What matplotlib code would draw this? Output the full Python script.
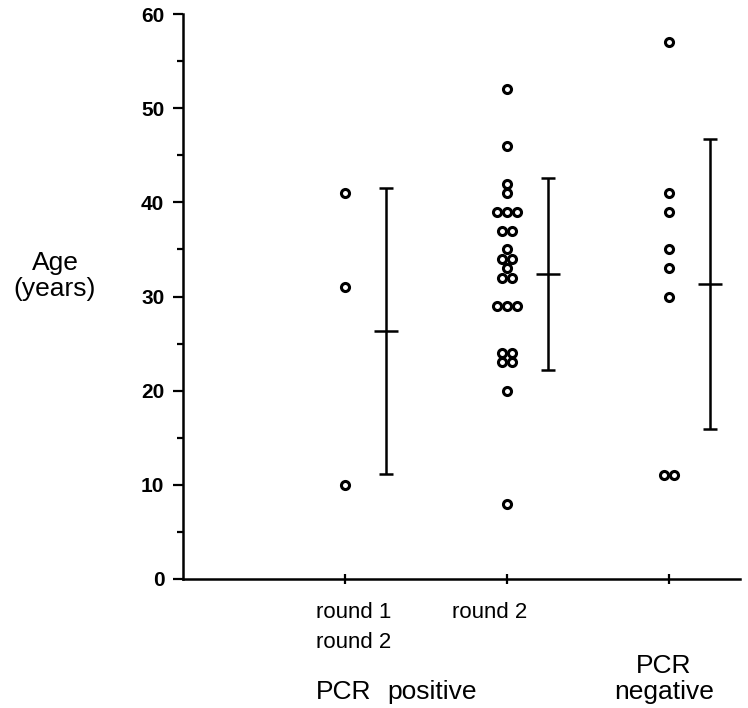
import numpy as np
import matplotlib.pyplot as plt

plt.rcParams['font.family'] = ['Liberation Sans', 'DejaVu Sans']

# ages (years)
pos_r12 = [41, 31, 10]
pos_r2 = [52, 46, 42, 41, 39, 39, 39, 37, 37, 35, 34, 34, 33,
          32, 32, 29, 29, 29, 24, 24, 23, 23, 20, 8]
neg = [57, 41, 39, 35, 33, 30, 11, 11]
groups = [pos_r12, pos_r2, neg]

# mean and +/- SD bars as drawn
means = [26.3, 32.4, 31.3]
sds = [15.2, 10.2, 15.4]

W, H = 748, 708
fig = plt.figure(figsize=(W / 100, H / 100), dpi=100)
ax = fig.add_axes([183 / W, 1 - 579 / H, (740 - 183) / W, (579 - 14) / H])

step = 0.062  # horizontal spacing for tied values
for i, vals in enumerate(groups):
    xc = i + 1
    vals = np.array(vals)
    xs = np.zeros(len(vals)) + xc
    for v in np.unique(vals):
        idx = np.where(vals == v)[0]
        n = len(idx)
        xs[idx] = xc + (np.arange(n) - (n - 1) / 2) * step
    ax.plot(xs, vals, 'o', ms=5.8, mfc='white', mec='black', mew=2.2, ls='none')

bx = np.arange(1, 4) + 0.255
ax.errorbar(bx, means, yerr=sds, fmt='none', ecolor='black', elinewidth=1.8,
            capsize=4.8, capthick=1.8)
ax.plot(bx, means, '_', color='black', ms=17, mew=1.8)

ax.set_xlim(0, 3.44)
ax.set_ylim(0, 60)
ax.set_xticks([1, 2, 3])
ax.set_xticklabels([])
ax.set_yticks(range(0, 61, 10))
ax.set_yticks(range(5, 60, 10), minor=True)
for s in ['top', 'right']:
    ax.spines[s].set_visible(False)
for s in ['left', 'bottom']:
    ax.spines[s].set_linewidth(1.8)
ax.tick_params(axis='y', which='major', length=7.5, width=1.6, labelsize=15, pad=6)
ax.tick_params(axis='y', which='minor', length=4, width=1.6)
ax.tick_params(axis='x', direction='inout', length=7, width=1.6)
for lab in ax.get_yticklabels():
    lab.set_fontweight('bold')

fig.text(55 / W, 1 - 276 / H, "Age\n(years)", ha='center', va='center',
         fontsize=19, linespacing=1.1)

fig.text(316 / W, 1 - 613 / H, "round 1", ha='left', va='center', fontsize=16)
fig.text(316 / W, 1 - 642 / H, "round 2", ha='left', va='center', fontsize=16)
fig.text(452 / W, 1 - 613 / H, "round 2", ha='left', va='center', fontsize=16)
fig.text(316 / W, 1 - 692 / H, "PCR", ha='left', va='center', fontsize=19)
fig.text(387 / W, 1 - 692 / H, "positive", ha='left', va='center', fontsize=19)
fig.text(664 / W, 1 - 666 / H, "PCR", ha='center', va='center', fontsize=19)
fig.text(664 / W, 1 - 692 / H, "negative", ha='center', va='center', fontsize=19)

fig.savefig('out.png', dpi=100)
